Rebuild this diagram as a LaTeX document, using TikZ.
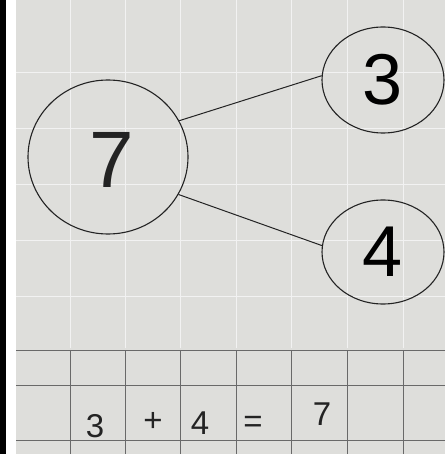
\documentclass[tikz,border=0pt]{standalone}
\usepackage{fontspec}
\setmainfont{Liberation Sans}
\usetikzlibrary{shapes.geometric}
\definecolor{paper}{RGB}{222,222,219}
\definecolor{ink}{RGB}{35,35,35}
\definecolor{rule}{RGB}{105,105,105}
\tikzset{
  bubble/.style={draw=ink, ellipse, line width=1.1pt, inner sep=0pt},
  bondline/.style={draw=ink, line width=1pt},
  gridline/.style={draw=rule, line width=0.9pt},
  faint/.style={draw=black!5, line width=0.6pt},
  cell/.style={text=ink, font=\fontsize{33}{33}\selectfont, inner sep=0pt},
}
\begin{document}
\begin{tikzpicture}[x=1pt, y=-1pt]
\useasboundingbox (0,0) rectangle (445,454);

% sheet
\fill[white] (0,0) rectangle (445,454);
\fill[black] (0,0) rectangle (6,454);
\fill[paper] (16,0) rectangle (445,454);
\foreach \x in {70,125,180,236,291,347,403}
  \draw[faint] (\x,0) -- (\x,348);
\foreach \y in {72,128,184,240,296}
  \draw[faint] (16,\y) -- (445,\y);

% bond
\node[bubble, minimum width=160, minimum height=154] (whole) at (108,157) {};
\node[text=ink, font=\fontsize{80}{80}\selectfont] at (112,160) {7};
\node[bubble, minimum width=122, minimum height=106] (three) at (383,80)
  {\fontsize{72}{72}\selectfont 3};
\node[bubble, minimum width=122, minimum height=104] (four) at (383,252)
  {\fontsize{72}{72}\selectfont 4};

\draw[bondline] (whole.27) -- (three.176);
\draw[bondline] (whole.-28) -- (four.174);

% number sentence
\draw[gridline] (16,350) -- (445,350);
\draw[gridline] (16,385) -- (445,385);
\draw[gridline] (16,440) -- (445,440);
\foreach \x in {70,125,180,236,291,347,403}
  \draw[gridline] (\x,350) -- (\x,454);

\node[cell] (a) at (95,426) {3};
\node[cell] (plus) at (153,422) {+};
\node[cell] (b) at (200,423) {4};
\node[cell] (eq) at (253,424) {=};
\node[cell] (sum) at (322,414) {7};

\end{tikzpicture}
\end{document}
